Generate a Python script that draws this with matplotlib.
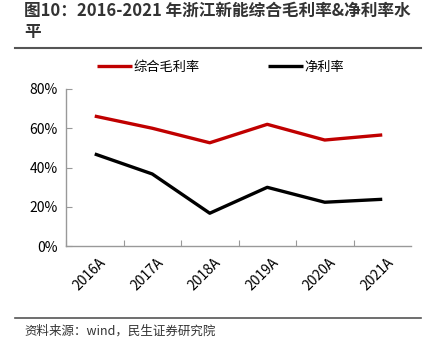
import matplotlib
matplotlib.use("Agg")
import matplotlib.pyplot as plt
import matplotlib.transforms as mtransforms
from matplotlib.ticker import FuncFormatter, FixedLocator

plt.rcParams['font.family'] = ['Noto Sans CJK SC', 'DejaVu Sans']

years = ["2016A", "2017A", "2018A", "2019A", "2020A", "2021A"]
gross_margin = [66.2, 60.0, 52.6, 62.0, 54.0, 56.6]
net_margin = [46.9, 36.7, 16.7, 29.9, 22.3, 23.8]

fig = plt.figure(figsize=(4.33, 3.54), dpi=100)
ax = fig.add_axes([66/433, 1-246/354, (411-66)/433, (246-89)/354])

x = list(range(len(years)))
red = "#C00000"
ax.plot(x, gross_margin, color=red, lw=2.4, solid_capstyle='butt', label="综合毛利率")
ax.plot(x, net_margin, color="black", lw=2.4, solid_capstyle='butt', label="净利率")

ax.set_xlim(-0.5, len(years) - 0.5)
ax.set_ylim(0, 80)
ax.set_yticks([0, 20, 40, 60, 80])
ax.yaxis.set_major_formatter(FuncFormatter(lambda v, p: f"{int(v)}%"))
ax.xaxis.set_major_locator(FixedLocator([i - 0.5 for i in range(len(years))]))
ax.xaxis.set_major_formatter(FuncFormatter(lambda v, p: ""))
ax.xaxis.set_minor_locator(FixedLocator(x))
ax.set_xticklabels(years, minor=True)
ax.tick_params(axis='x', which='minor', length=0, rotation=45, labelsize=10, pad=7)
offset = mtransforms.ScaledTranslation(4/100, 0, fig.dpi_scale_trans)
for lab in ax.get_xticklabels(minor=True):
    lab.set_ha('right'); lab.set_va('top'); lab.set_rotation_mode('anchor')
    lab.set_transform(lab.get_transform() + offset)
ax.tick_params(axis='x', which='major', direction='in', length=4, color='#999999')
ax.tick_params(axis='y', direction='in', length=4, color='#999999', labelsize=10, pad=6)

for s in ['top', 'right']:
    ax.spines[s].set_visible(False)
for s in ['left', 'bottom']:
    ax.spines[s].set_color('#999999')
    ax.spines[s].set_linewidth(1)

ax.legend(loc='center left', bbox_to_anchor=(97/433, 1-67.5/354), bbox_transform=fig.transFigure,
          ncol=2, frameon=False, borderpad=0, borderaxespad=0,
          fontsize=9.5, handlelength=2.65, columnspacing=5.2, handletextpad=0.1)

fig.text(24/433, 1-11/354, "图10：2016-2021 年浙江新能综合毛利率&净利率水", fontsize=12,
         fontweight='bold', color='#333333', va='center')
fig.text(24/433, 1-32/354, "平", fontsize=12, fontweight='bold', color='#333333', va='center')
fig.add_artist(plt.Line2D([15/433, 421/433], [1-48/354, 1-48/354], color='#555555', lw=1.5))
fig.add_artist(plt.Line2D([15/433, 421/433], [1-318/354, 1-318/354], color='#555555', lw=1.2))
fig.text(24/433, 1-331/354, "资料来源：wind，民生证券研究院", fontsize=9, color='#333333', va='center')

fig.savefig("out.png", dpi=100)
